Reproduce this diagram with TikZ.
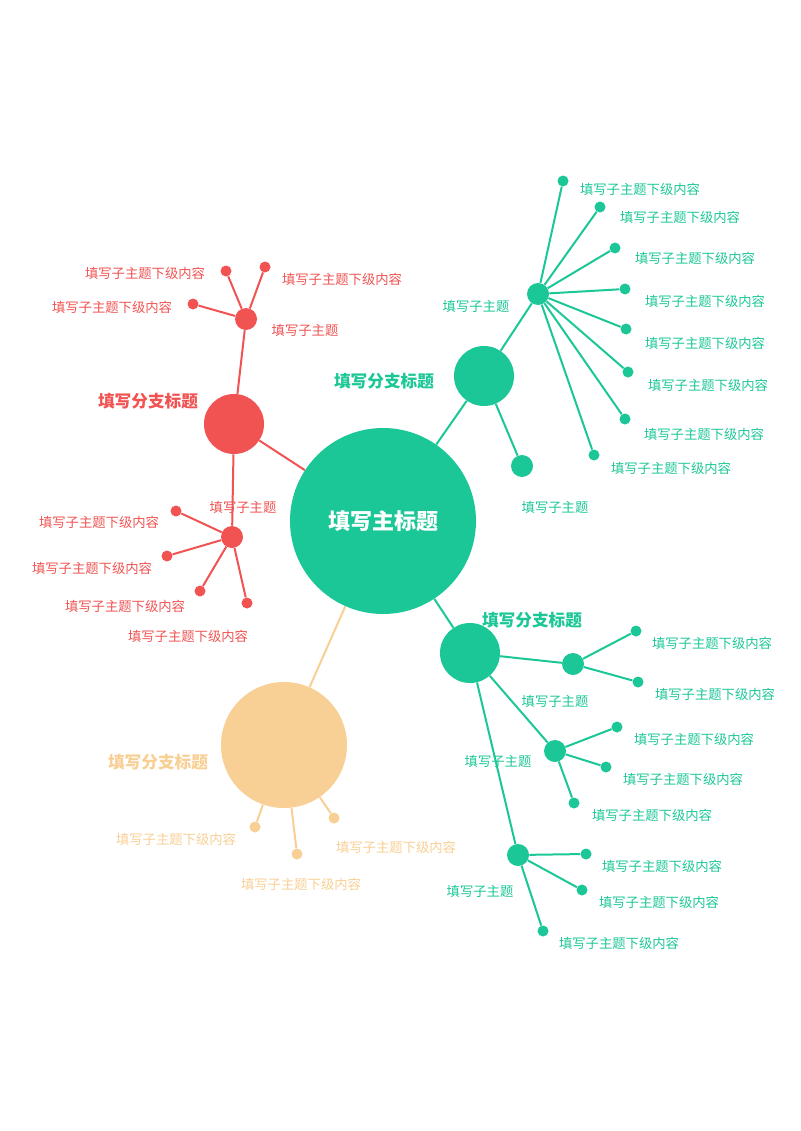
\documentclass[tikz,border=0pt]{standalone}
\usepackage{fontspec}
\setmainfont{Noto Sans CJK SC}
\usetikzlibrary{backgrounds}
\definecolor{mgreen}{HTML}{1CC797}
\definecolor{mred}{HTML}{F05352}
\definecolor{morange}{HTML}{F8CF94}
\newcommand{\leaftext}{填写子主题下级内容}
\begin{document}
\begin{tikzpicture}[x=0.75pt,y=-0.75pt,
    dot/.style={circle, fill=#1, inner sep=0pt},
    big/.style={dot=#1, minimum size=60*0.75pt},
    mid/.style={dot=#1, minimum size=22*0.75pt},
    tip/.style={dot=#1, minimum size=11*0.75pt},
    leaf/.style={text=#1, font=\fontsize{10}{12}\selectfont, inner sep=0pt},
    head/.style={text=#1, font=\fontsize{12.5}{15}\selectfont\bfseries, inner sep=0pt},
    link/.style={draw=#1, line width=1.5pt}]
   \useasboundingbox (0,0) rectangle (800,1131);

   % main topic
   \node[dot=mgreen, minimum size=186*0.75pt, text=white,
     font=\fontsize{16.5}{18}\selectfont\bfseries] (M) at (383,521) {填写主标题};

   % red branch
   \node[big=mred] (R) at (234,424) {};
   \node[head=mred] (Rt) at (148,401) {填写分支标题};
   \node[mid=mred] (R1) at (246,319) {};
   \node[leaf=mred] (R1t) at (305,330) {填写子主题};
   \node[mid=mred] (R2) at (232,537) {};
   \node[leaf=mred] (R2t) at (243,507) {填写子主题};
   \begin{pgfonlayer}{background}
     \draw[link=mred] (M) -- (R);
     \draw[link=mred] (R) -- (R1);
     \draw[link=mred] (R) -- (R2);
   \end{pgfonlayer}
   \foreach \x/\y/\lx/\ly [count=\i] in {226/271/145/273, 265/267/342/279, 193/304/112/307} {
     \node[tip=mred] (R1l\i) at (\x,\y) {};
     \node[leaf=mred] (R1lt\i) at (\lx,\ly) {\leaftext};
     \begin{pgfonlayer}{background}\draw[link=mred] (R1) -- (R1l\i);\end{pgfonlayer}
   }
   \foreach \x/\y/\lx/\ly [count=\i] in {176/511/99/522, 167/556/92/568, 200/591/125/606, 247/603/188/636} {
     \node[tip=mred] (R2l\i) at (\x,\y) {};
     \node[leaf=mred] (R2lt\i) at (\lx,\ly) {\leaftext};
     \begin{pgfonlayer}{background}\draw[link=mred] (R2) -- (R2l\i);\end{pgfonlayer}
   }

   % upper green branch
   \node[big=mgreen] (G) at (484,376) {};
   \node[head=mgreen] (Gt) at (384,381) {填写分支标题};
   \node[mid=mgreen] (G1) at (538,294) {};
   \node[leaf=mgreen] (G1t) at (476,306) {填写子主题};
   \node[mid=mgreen] (G2) at (522,466) {};
   \node[leaf=mgreen] (G2t) at (555,507) {填写子主题};
   \begin{pgfonlayer}{background}
     \draw[link=mgreen] (M) -- (G);
     \draw[link=mgreen] (G) -- (G1);
     \draw[link=mgreen] (G) -- (G2);
   \end{pgfonlayer}
   \foreach \x/\y/\lx/\ly [count=\i] in {563/181/640/189, 600/207/680/217, 615/248/695/258,
       625/289/705/301, 626/329/705/343, 628/372/708/385, 625/419/704/434, 594/455/671/468} {
     \node[tip=mgreen] (G1l\i) at (\x,\y) {};
     \node[leaf=mgreen] (G1lt\i) at (\lx,\ly) {\leaftext};
     \begin{pgfonlayer}{background}\draw[link=mgreen] (G1) -- (G1l\i);\end{pgfonlayer}
   }

   % lower green branch
   \node[big=mgreen] (H) at (470,653) {};
   \node[head=mgreen] (Ht) at (532,620) {填写分支标题};
   \node[mid=mgreen] (H1) at (573,664) {};
   \node[leaf=mgreen] (H1t) at (555,701) {填写子主题};
   \node[mid=mgreen] (H2) at (555,751) {};
   \node[leaf=mgreen] (H2t) at (498,761) {填写子主题};
   \node[mid=mgreen] (H3) at (518,855) {};
   \node[leaf=mgreen] (H3t) at (480,891) {填写子主题};
   \begin{pgfonlayer}{background}
     \draw[link=mgreen] (M) -- (H);
     \draw[link=mgreen] (H) -- (H1);
     \draw[link=mgreen] (H) -- (H2);
     \draw[link=mgreen] (H) -- (H3);
   \end{pgfonlayer}
   \foreach \x/\y/\lx/\ly [count=\i] in {636/631/712/643, 638/682/715/694} {
     \node[tip=mgreen] (H1l\i) at (\x,\y) {};
     \node[leaf=mgreen] (H1lt\i) at (\lx,\ly) {\leaftext};
     \begin{pgfonlayer}{background}\draw[link=mgreen] (H1) -- (H1l\i);\end{pgfonlayer}
   }
   \foreach \x/\y/\lx/\ly [count=\i] in {617/727/694/739, 606/767/683/779, 574/803/652/815} {
     \node[tip=mgreen] (H2l\i) at (\x,\y) {};
     \node[leaf=mgreen] (H2lt\i) at (\lx,\ly) {\leaftext};
     \begin{pgfonlayer}{background}\draw[link=mgreen] (H2) -- (H2l\i);\end{pgfonlayer}
   }
   \foreach \x/\y/\lx/\ly [count=\i] in {586/854/662/866, 582/890/659/902, 543/931/619/943} {
     \node[tip=mgreen] (H3l\i) at (\x,\y) {};
     \node[leaf=mgreen] (H3lt\i) at (\lx,\ly) {\leaftext};
     \begin{pgfonlayer}{background}\draw[link=mgreen] (H3) -- (H3l\i);\end{pgfonlayer}
   }

   % orange branch
   \node[dot=morange, minimum size=126*0.75pt] (O) at (284,745) {};
   \node[head=morange] (Ot) at (158,762) {填写分支标题};
   \begin{pgfonlayer}{background}\draw[link=morange] (M) -- (O);\end{pgfonlayer}
   \foreach \x/\y/\lx/\ly [count=\i] in {255/827/176/839, 297/854/301/884, 334/818/396/847} {
     \node[tip=morange] (Ol\i) at (\x,\y) {};
     \node[leaf=morange] (Olt\i) at (\lx,\ly) {\leaftext};
     \begin{pgfonlayer}{background}\draw[link=morange] (O) -- (Ol\i);\end{pgfonlayer}
   }
 \end{tikzpicture}
\end{document}
